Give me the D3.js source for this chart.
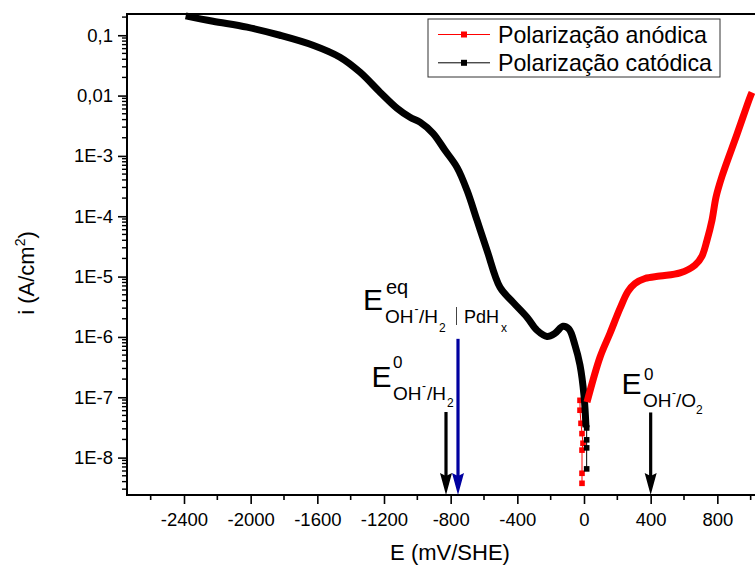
<!DOCTYPE html>
<html><head><meta charset="utf-8">
<script src="https://cdn.jsdelivr.net/npm/d3@7"></script>
<style>
body{margin:0;background:#fff}
svg{display:block}
text{font-family:"Liberation Sans",Arial,sans-serif;fill:#000}
</style>
</head><body>
<svg id="chart" width="755" height="570"></svg>
<script>
// ---------- data ----------
const seriesNames = ["Polarização anódica", "Polarização catódica"];
const seriesColors = ["#ff0000", "#000000"];

// cathodic polarization (dense trace)
const cathodicE = [-2390,-2226,-2022,-1824,-1626,-1464,-1344,-1224,-1122,-1044,-984,-906,-834,-762,-702,-642,-582,-504,-426,-342,-282,-222,-174,-126,-90,-54,-24,0,12];
const cathodicI = [0.21,0.171,0.136,0.1,0.0683,0.0432,0.0244,0.0114,0.00617,0.00437,0.00363,0.00237,0.00124,6.46e-4,2.69e-4,8.6e-5,2.73e-5,6.65e-6,3.76e-6,2.12e-6,1.29e-6,1.02e-6,1.15e-6,1.5e-6,1.35e-6,7.3e-7,3.4e-7,1.07e-7,3.16e-8];
// cathodic sparse points near the corrosion potential
const cathodicTailE = [12,16,16,16,16];
const cathodicTailI = [3.16e-8,3.1e-8,1.97e-8,1.45e-8,6.5e-9];

// anodic polarization (dense trace)
const anodicE = [18,96,156,216,264,306,366,456,576,666,708,738,768,792,828,918,996,1008];
const anodicI = [8.3e-8,4.6e-7,1.15e-6,2.97e-6,5.7e-6,7.7e-6,9.3e-6,1.02e-5,1.15e-5,1.55e-5,2.19e-5,4.0e-5,8.6e-5,2.07e-4,4.6e-4,2.29e-3,9.4e-3,0.0113];
// anodic sparse points near the corrosion potential
const anodicTailE = [18,-24,-24,-18,-12,-6,-12,-12,-12];
const anodicTailI = [8.3e-8,8.9e-8,6.1e-8,3.7e-8,2.5e-8,1.73e-8,1.33e-8,5.5e-9,3.75e-9];

// reference potentials (arrows)
const arrowE = [-828, -756, 400];
const arrowTopI = [5.7e-8, 9.3e-7, 5.6e-8];
const arrowColors = ["#000000", "#0000a0", "#000000"];

// axes
const xTickValues = [-2400,-2000,-1600,-1200,-800,-400,0,400,800];
const xMinorValues = [-2600,-2200,-1800,-1400,-1000,-600,-200,200,600,1000];
const yTickValues = [0.1,0.01,1e-3,1e-4,1e-5,1e-6,1e-7,1e-8];
const yTickLabels = ["0,1","0,01","1E-3","1E-4","1E-5","1E-6","1E-7","1E-8"];

(function draw() {
const FONT = "'Liberation Sans', Arial, sans-serif";
const svg = d3.select("#chart").attr("font-family", FONT);
const pLeft = 127, pTop = 14, pBottom = 495;
const xMin = -2742, xMax = 1100;
const x = d3.scaleLinear().domain([xMin, xMax]).range([pLeft, pLeft + (xMax - xMin) / 6]);
const y = d3.scaleLog().domain([2.4e-9, 0.225]).range([pBottom, pTop]);
const pRight = x(xMax);

const yMinor = [];
for (let d = -9; d <= -1; d++) for (let k = 2; k <= 9; k++) {
  const v = k * Math.pow(10, d);
  if (v >= 2.4e-9 && v <= 0.225) yMinor.push(v);
}

const tickFont = "18.5px";
// X axis
const gx = svg.append("g").attr("transform", `translate(0,${pBottom})`)
  .call(d3.axisBottom(x).tickValues(xTickValues).tickSize(9).tickPadding(9).tickFormat(d3.format("d")));
gx.attr("font-family", FONT);
gx.select(".domain").remove();
gx.selectAll("line").attr("stroke", "#000").attr("stroke-width", 1.6);
gx.selectAll("text").attr("font-size", tickFont)
  .text(d => d < 0 ? "-" + Math.abs(d) : String(d));
svg.append("g").attr("transform", `translate(0,${pBottom})`)
  .selectAll("line").data(xMinorValues).join("line")
  .attr("x1", d => x(d)).attr("x2", d => x(d)).attr("y1", 0).attr("y2", 5)
  .attr("stroke", "#000").attr("stroke-width", 1.6);

// Y axis
const gy = svg.append("g").attr("transform", `translate(${pLeft},0)`)
  .call(d3.axisLeft(y).tickValues(yTickValues).tickSize(9).tickPadding(5)
    .tickFormat((d, i) => yTickLabels[i]));
gy.attr("font-family", FONT);
gy.select(".domain").remove();
gy.selectAll("line").attr("stroke", "#000").attr("stroke-width", 1.6);
gy.selectAll("text").attr("font-size", tickFont);
svg.append("g").attr("transform", `translate(${pLeft},0)`)
  .selectAll("line").data(yMinor).join("line")
  .attr("x1", 0).attr("x2", -5).attr("y1", d => y(d)).attr("y2", d => y(d))
  .attr("stroke", "#000").attr("stroke-width", 1.4);

// frame
svg.append("path")
  .attr("d", `M${pLeft},${pBottom} L${pLeft},${pTop} L${pRight},${pTop} L${pRight},${pBottom} Z`)
  .attr("fill", "none").attr("stroke", "#000").attr("stroke-width", 2);

// axis titles
const yl = svg.append("text").attr("transform", `translate(33.5,273) rotate(-90)`)
  .attr("text-anchor", "middle").attr("font-size", "22px");
yl.append("tspan").text("i (A/cm");
yl.append("tspan").attr("font-size", "14px").attr("dy", -9).text("2");
yl.append("tspan").attr("dy", 9).text(")");
svg.append("text").attr("x", 450).attr("y", 560).attr("text-anchor", "middle")
  .attr("font-size", "22px").text("E (mV/SHE)");

// curves
const line = d3.line().x(d => x(d[0])).y(d => y(d[1])).curve(d3.curveCatmullRom.alpha(0.5));
const lineStraight = d3.line().x(d => x(d[0])).y(d => y(d[1]));
const cath = cathodicE.map((e, i) => [e, cathodicI[i]]);
const cathTail = cathodicTailE.map((e, i) => [e, cathodicTailI[i]]);
const anod = anodicE.map((e, i) => [e, anodicI[i]]);
const anodTail = anodicTailE.map((e, i) => [e, anodicTailI[i]]);

const plot = svg.append("g");
plot.append("path").attr("d", lineStraight(anodTail)).attr("fill", "none")
  .attr("stroke", seriesColors[0]).attr("stroke-width", 1);
plot.selectAll("rect.at").data(anodTail.slice(1)).join("rect").attr("class", "at")
  .attr("x", d => x(d[0]) - 2.8).attr("y", d => y(d[1]) - 2.8).attr("width", 5.6).attr("height", 5.6)
  .attr("fill", seriesColors[0]);
plot.append("path").attr("d", line(cath)).attr("fill", "none")
  .attr("stroke", seriesColors[1]).attr("stroke-width", 7).attr("stroke-linejoin", "round").attr("stroke-linecap", "butt");
plot.append("path").attr("d", lineStraight(cathTail)).attr("fill", "none")
  .attr("stroke", seriesColors[1]).attr("stroke-width", 1);
plot.selectAll("rect.ct").data(cathTail.slice(1)).join("rect").attr("class", "ct")
  .attr("x", d => x(d[0]) - 2.8).attr("y", d => y(d[1]) - 2.8).attr("width", 5.6).attr("height", 5.6)
  .attr("fill", seriesColors[1]);
plot.append("path").attr("d", line(anod)).attr("fill", "none")
  .attr("stroke", seriesColors[0]).attr("stroke-width", 7).attr("stroke-linejoin", "round").attr("stroke-linecap", "butt");

// arrows
arrowE.forEach((e, i) => {
  const ax = x(e), tipY = y(y.domain()[0]), headLen = 22, headW = 6;
  svg.append("line").attr("x1", ax).attr("x2", ax).attr("y1", y(arrowTopI[i])).attr("y2", tipY - headLen + 3)
    .attr("stroke", arrowColors[i]).attr("stroke-width", 3.2);
  svg.append("path")
    .attr("d", `M${ax},${tipY} L${ax - headW},${tipY - headLen} L${ax},${tipY - headLen + 3} L${ax + headW},${tipY - headLen} Z`)
    .attr("fill", arrowColors[i]);
});

// annotation labels
function t(xp, yp, str, size) {
  return svg.append("text").attr("x", xp).attr("y", yp).attr("font-size", size + "px").text(str);
}
t(363, 310, "E", 30);
t(386, 294, "eq", 20);
t(385, 323, "OH", 19);
t(414.5, 313, "-", 12);
t(419, 323, "/H", 19);
t(439, 332, "2", 12);
svg.append("line").attr("x1", 456.5).attr("x2", 456.5).attr("y1", 307).attr("y2", 325)
  .attr("stroke", "#444").attr("stroke-width", 1);
t(464, 323, "PdH", 18);
t(501, 332, "x", 12);

t(371.5, 387, "E", 30);
t(393, 368, "0", 17);
t(393, 400, "OH", 19);
t(422, 390, "-", 12);
t(427, 400, "/H", 19);
t(447, 407, "2", 12);

t(621.5, 394, "E", 30);
t(644, 380, "0", 17);
t(643, 407, "OH", 19);
t(672, 397, "-", 12);
t(676, 407, "/O", 19);
t(696, 413.5, "2", 12);

// legend
const lg = svg.append("g");
lg.append("rect").attr("x", 428).attr("y", 19).attr("width", 292).attr("height", 58)
  .attr("fill", "#fff").attr("stroke", "#333").attr("stroke-width", 1);
seriesNames.forEach((name, i) => {
  const ry = 34.5 + i * 28.3;
  lg.append("line").attr("x1", 438).attr("x2", 490).attr("y1", ry).attr("y2", ry)
    .attr("stroke", seriesColors[i]).attr("stroke-width", 1);
  lg.append("rect").attr("x", 461).attr("y", ry - 3).attr("width", 6).attr("height", 6)
    .attr("fill", seriesColors[i]);
  lg.append("text").attr("x", 498).attr("y", ry + 8).attr("font-size", "23.2px").text(name);
});
})();
</script>
</body></html>
